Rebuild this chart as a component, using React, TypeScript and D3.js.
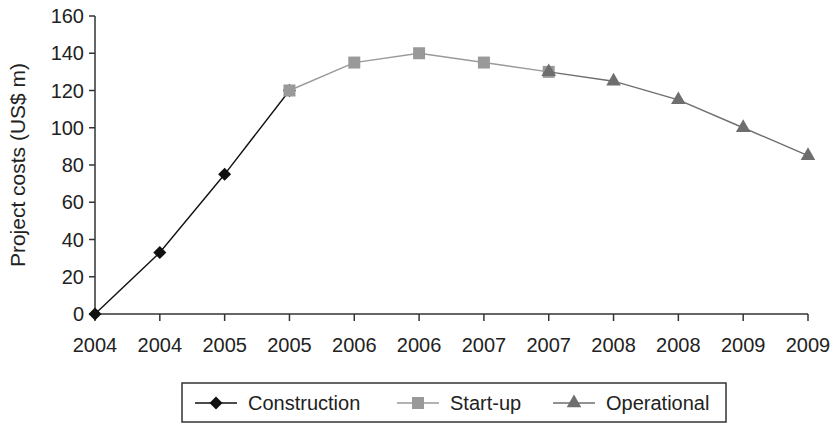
import React from "react";
import * as d3 from "d3";

const categories = ["2004", "2004", "2005", "2005", "2006", "2006", "2007", "2007", "2008", "2008", "2009", "2009"];
const yTicks = [0, 20, 40, 60, 80, 100, 120, 140, 160];

// each series covers a slice of the categories, starting at `start`
const constructionStart = 0;
const constructionValues = [0, 33, 75, 120];
const startupStart = 3;
const startupValues = [120, 135, 140, 135, 130];
const operationalStart = 7;
const operationalValues = [130, 125, 115, 100, 85];

const width = 834,
  height = 424;
const font = "'Liberation Sans', Arial, Helvetica, sans-serif";

type Pt = { i: number; v: number };

const toPoints = (start: number, values: number[]): Pt[] =>
  values.map((v, k) => ({ i: start + k, v }));

export default function App() {
  const x = d3
    .scalePoint<number>()
    .domain(categories.map((_, i) => i))
    .range([95, 808]);

  const y = d3.scaleLinear().domain([0, 160]).range([314, 16]);

  const line = d3
    .line<Pt>()
    .x((d) => x(d.i) as number)
    .y((d) => y(d.v));

  const diamond = d3.symbol().type(d3.symbolSquare).size(85)() as string;
  const square = d3.symbol().type(d3.symbolSquare).size(144)() as string;
  const triangle = d3.symbol().type(d3.symbolTriangle).size(92)() as string;

  const series = [
    { name: "Construction", pts: toPoints(constructionStart, constructionValues), line: "#111", fill: "#111", path: diamond, rot: 45 },
    { name: "Start-up", pts: toPoints(startupStart, startupValues), line: "#9a9a9a", fill: "#999", path: square, rot: 0 },
    { name: "Operational", pts: toPoints(operationalStart, operationalValues), line: "#6e6e6e", fill: "#6e6e6e", path: triangle, rot: 0 },
  ];

  const legendX = [195, 397, 553];

  return (
    <div style={{ position: "fixed", left: 0, top: 0 }}>
      <svg width={width} height={height} style={{ display: "block", background: "#fff" }}>
        {/* y axis */}
        <line x1={95} x2={95} y1={y(160)} y2={y(0)} stroke="#333" strokeWidth={1.5} />
        {yTicks.map((t) => (
          <g key={t} transform={`translate(95,${y(t)})`}>
            <line x1={-6} x2={0} stroke="#333" strokeWidth={1.5} />
            <text x={-11} dy="0.35em" textAnchor="end" fontFamily={font} fontSize={20} fill="#222">
              {t}
            </text>
          </g>
        ))}
        <text
          transform={`translate(25,${(y(0) + y(160)) / 2}) rotate(-90)`}
          textAnchor="middle"
          fontFamily={font}
          fontSize={21}
          fill="#222"
        >
          Project costs (US$ m)
        </text>

        {/* x axis */}
        <line x1={95} x2={808} y1={y(0)} y2={y(0)} stroke="#333" strokeWidth={1.5} />
        {categories.map((c, i) => (
          <g key={i} transform={`translate(${x(i)},${y(0)})`}>
            <line y1={0} y2={7} stroke="#333" strokeWidth={1.5} />
            <text y={31} dy="0.35em" textAnchor="middle" fontFamily={font} fontSize={20} fill="#222">
              {c}
            </text>
          </g>
        ))}

        {/* series */}
        {series.map((s) => (
          <g key={s.name}>
            <path d={line(s.pts) as string} fill="none" stroke={s.line} strokeWidth={1.4} />
            {s.pts.map((p) => (
              <path
                key={p.i}
                d={s.path}
                fill={s.fill}
                transform={`translate(${x(p.i)},${y(p.v)}) rotate(${s.rot})`}
              />
            ))}
          </g>
        ))}

        {/* legend */}
        <rect x={182} y={383} width={544} height={39} fill="none" stroke="#333" strokeWidth={1.5} />
        {series.map((s, k) => (
          <g key={s.name} transform={`translate(${legendX[k]},403)`}>
            <line x1={0} x2={42} stroke={s.line} strokeWidth={1.4} />
            <path d={s.path} fill={s.fill} transform={`translate(21,0) rotate(${s.rot})`} />
            <text x={53} dy="0.35em" fontFamily={font} fontSize={20} fill="#222">
              {s.name}
            </text>
          </g>
        ))}
      </svg>
    </div>
  );
}
